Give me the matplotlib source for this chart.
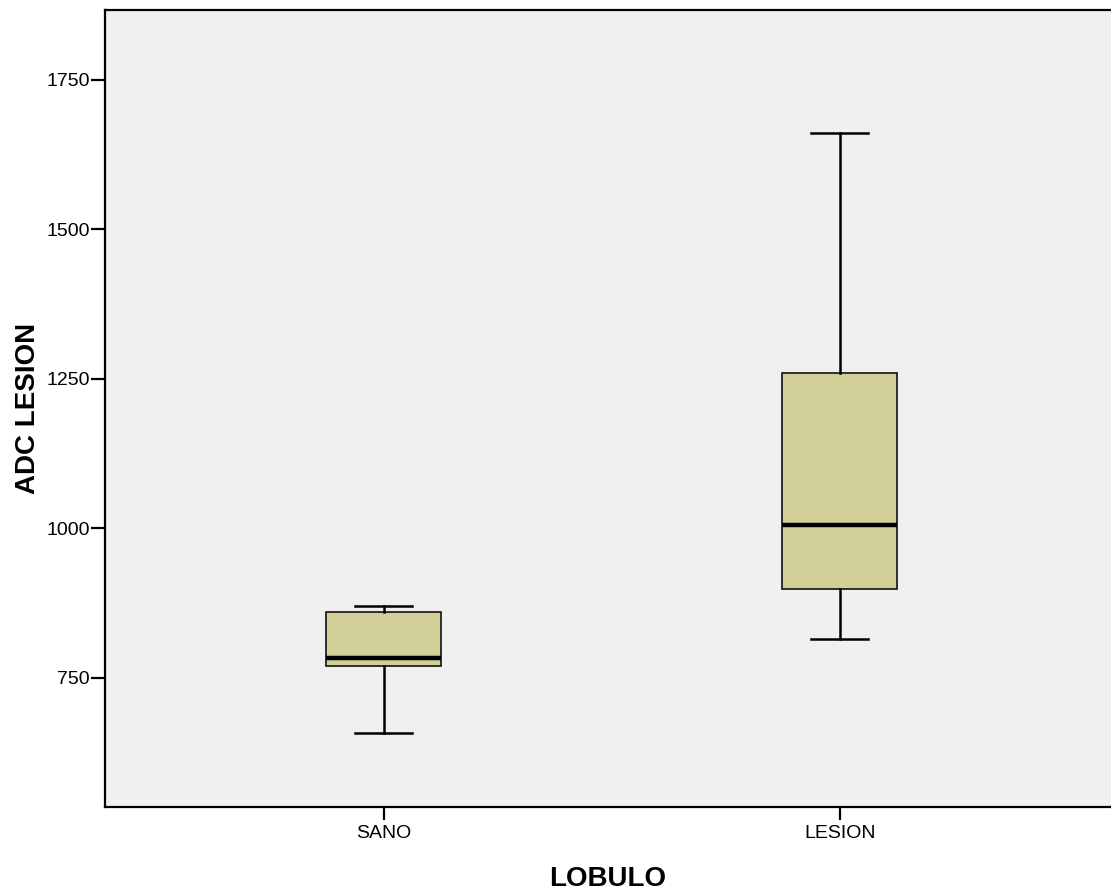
import matplotlib
matplotlib.use("Agg")
import matplotlib.pyplot as plt

# Five-number summaries of ADC LESION by LOBULO
categories = ["SANO", "LESION"]
whisker_low = [658, 815]
q1 = [769, 899]
median = [783, 1006]
q3 = [860, 1260]
whisker_high = [870, 1661]

yticks = [750, 1000, 1250, 1500, 1750]

plt.rcParams["font.family"] = ["Liberation Sans", "DejaVu Sans"]

fig = plt.figure(figsize=(11.11, 8.90), dpi=100)
ax = fig.add_axes([105 / 1111, 83 / 890, 1006 / 1111, 797 / 890])
ax.set_facecolor("#F0F0F0")

stats = []
for i, name in enumerate(categories):
    stats.append(dict(label=name, whislo=whisker_low[i], q1=q1[i], med=median[i],
                      q3=q3[i], whishi=whisker_high[i], fliers=[]))

positions = list(range(len(categories)))
ax.bxp(stats, positions=positions, widths=0.252, patch_artist=True, showfliers=False,
       boxprops=dict(facecolor="#D3CF98", edgecolor="#111111", linewidth=1.2),
       medianprops=dict(color="black", linewidth=3.2, solid_capstyle="butt"),
       whiskerprops=dict(color="black", linewidth=1.8),
       capprops=dict(color="black", linewidth=1.8),
       capwidths=0.125)

# the category axis runs past the right edge of the figure
ax.set_xlim(-0.611, 1.595)
ax.set_ylim(534, 1867)
ax.set_yticks(yticks)
ax.set_yticklabels([str(v) for v in yticks])
ax.set_xticks(positions)
ax.set_xticklabels(categories)

ax.spines["right"].set_visible(False)
for s in ["left", "top", "bottom"]:
    ax.spines[s].set_linewidth(1.6)
    ax.spines[s].set_color("black")

ax.tick_params(axis="y", direction="out", length=10, width=1.6, labelsize=14, pad=1)
ax.tick_params(axis="x", direction="out", length=9, width=1.6, labelsize=14, pad=4)

ax.set_ylabel("ADC LESION", fontsize=20, fontweight="bold", labelpad=4)
ax.set_xlabel("LOBULO", fontsize=20, fontweight="bold", labelpad=17)

fig.savefig("out.png", dpi=100, facecolor="white")
